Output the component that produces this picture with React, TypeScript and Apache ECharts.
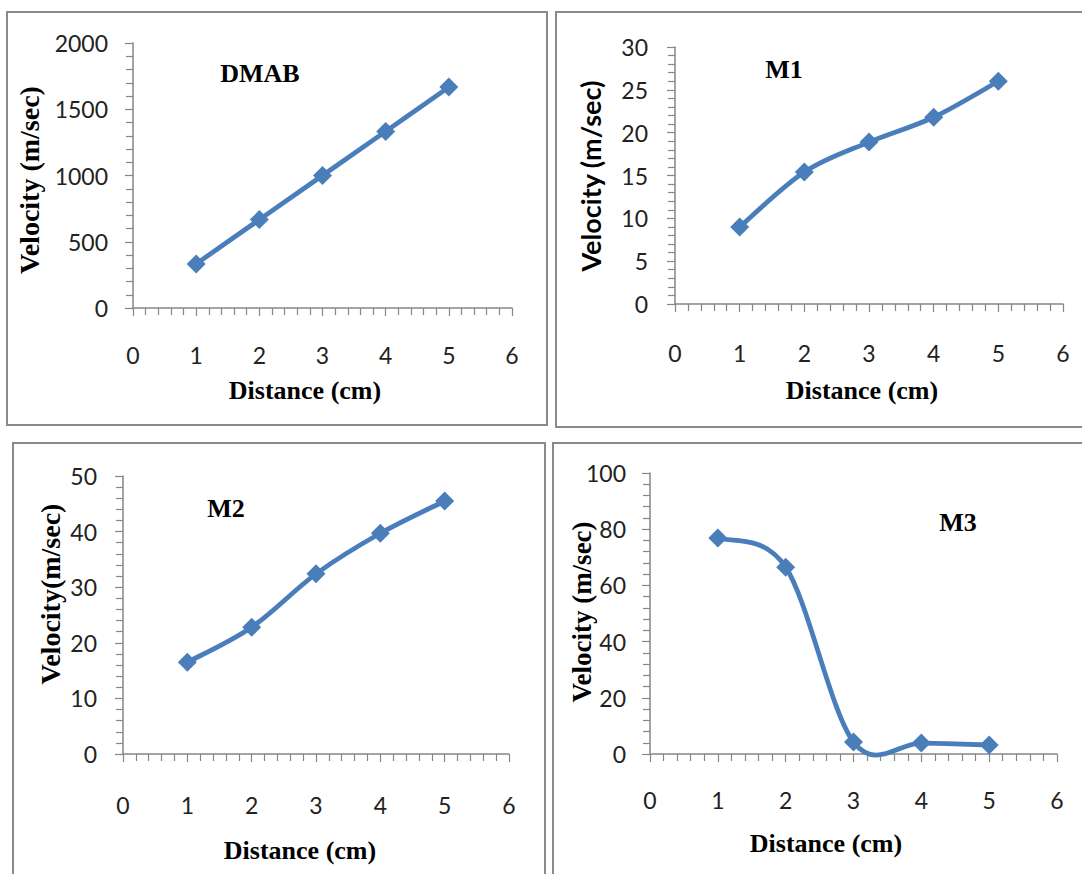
import React, { useEffect, useRef } from "react";
import * as echarts from "echarts";

const distance = [1, 2, 3, 4, 5];
const dmabVelocity = [333, 667, 1000, 1333, 1667];
const m1Velocity = [9.0, 15.4, 18.9, 21.8, 26.0];
const m2Velocity = [16.5, 22.8, 32.4, 39.7, 45.5];
const m3Velocity = [76.9, 66.5, 4.3, 3.9, 3.2];

const panelTitles = ["DMAB", "M1", "M2", "M3"];
const xTitle = "Distance (cm)";
const yTitles = ["Velocity (m/sec)", "Velocity (m/sec)", "Velocity(m/sec)", "Velocity (m/sec)"];
const yMax = [2000, 30, 50, 100];
const yInterval = [500, 5, 10, 20];

const BLUE = "#4A7EBB";
const AXIS = "#868686";
const SANS = "Lato, 'Open Sans', sans-serif";
const SERIF = "'Liberation Serif', 'DejaVu Serif', serif";

const grids = [
  { left: 133, top: 43, width: 379, height: 265 },
  { left: 675, top: 47, width: 388, height: 257 },
  { left: 123, top: 476, width: 386, height: 278 },
  { left: 650, top: 473, width: 407, height: 281 },
];
const yLabelMargin = [25, 27, 26, 24];
const xLabelMargin = [35, 37, 39, 34];

export default function App() {
  const ref = useRef<HTMLDivElement>(null);
  useEffect(() => {
    if (!ref.current) return;
    const chart = echarts.init(ref.current, undefined, { renderer: "svg" });
    const seriesData = [dmabVelocity, m1Velocity, m2Velocity, m3Velocity];

    const xAxes = grids.map((_, i) => ({
      type: "value",
      gridIndex: i,
      min: 0,
      max: 6,
      interval: 1,
      axisLine: { show: true, lineStyle: { color: AXIS, width: 1.5 } },
      axisTick: { show: true, inside: false, length: 8, lineStyle: { color: AXIS, width: 1.2 } },
      minorTick: { show: true, splitNumber: 5, length: 7, lineStyle: { color: AXIS, width: 1.2 } },
      splitLine: { show: false },
      axisLabel: {
        color: "#222",
        fontFamily: SANS,
        fontSize: 23,
        margin: xLabelMargin[i],
        formatter: (v: number) => String(v),
      },
    }));
    const yAxes = grids.map((_, i) => ({
      type: "value",
      gridIndex: i,
      min: 0,
      max: yMax[i],
      interval: yInterval[i],
      axisLine: { show: true, lineStyle: { color: AXIS, width: 1.5 } },
      axisTick: { show: true, inside: false, length: 8, lineStyle: { color: AXIS, width: 1.2 } },
      minorTick: { show: true, splitNumber: 5, length: 7, lineStyle: { color: AXIS, width: 1.2 } },
      splitLine: { show: false },
      axisLabel: {
        color: "#222",
        fontFamily: SANS,
        fontSize: 23,
        margin: yLabelMargin[i],
        formatter: (v: number) => String(v),
      },
    }));

    const series: any[] = [];
    seriesData.forEach((vals, i) => {
      const pts = distance.map((d, k) => [d, vals[k]]);
      series.push({
        type: "custom",
        xAxisIndex: i,
        yAxisIndex: i,
        data: pts,
        clip: false,
        z: 2,
        silent: true,
        renderItem: (params: any, api: any) => {
          if (params.dataIndex !== 0) return { type: "group", children: [] };
          const p = pts.map((d) => api.coord(d));
          const n = p.length;
          const children: any[] = [];
          for (let k = 0; k < n - 1; k++) {
            const p0 = p[Math.max(k - 1, 0)];
            const p1 = p[k];
            const p2 = p[k + 1];
            const p3 = p[Math.min(k + 2, n - 1)];
            children.push({
              type: "bezierCurve",
              shape: {
                x1: p1[0],
                y1: p1[1],
                x2: p2[0],
                y2: p2[1],
                cpx1: p1[0] + (p2[0] - p0[0]) / 6,
                cpy1: p1[1] + (p2[1] - p0[1]) / 6,
                cpx2: p2[0] - (p3[0] - p1[0]) / 6,
                cpy2: p2[1] - (p3[1] - p1[1]) / 6,
              },
              style: { stroke: BLUE, lineWidth: 4.8, fill: "none", lineCap: "round" },
            });
          }
          return { type: "group", children };
        },
      });
      series.push({
        type: "scatter",
        xAxisIndex: i,
        yAxisIndex: i,
        data: pts,
        symbol: "diamond",
        symbolSize: 19,
        z: 3,
        itemStyle: { color: BLUE, opacity: 1 },
      });
    });

    const borders = [
      { x: 7, y: 12, w: 540, h: 413 },
      { x: 556, y: 12, w: 540, h: 415 },
      { x: 13, y: 443, w: 532, h: 450 },
      { x: 553, y: 443, w: 540, h: 450 },
    ];
    const titlePos = [
      [260, 73],
      [784, 69],
      [226, 508],
      [958, 522],
    ];
    const xTitlePos = [
      [305, 390],
      [862, 390],
      [300, 850],
      [826, 843],
    ];
    const yTitlePos = [
      [29, 180],
      [590, 176],
      [50, 594],
      [582, 612],
    ];
    const yTitleFont = [
      `bold 28px ${SERIF}`,
      `bold 27px ${SANS}`,
      `bold 28px ${SERIF}`,
      `bold 27px ${SERIF}`,
    ];

    const graphic: any[] = [];
    borders.forEach((b) =>
      graphic.push({
        type: "rect",
        shape: { x: b.x, y: b.y, width: b.w, height: b.h },
        style: { fill: "none", stroke: "#8a8a8a", lineWidth: 2 },
        silent: true,
        z: -1,
      })
    );
    titlePos.forEach((p, i) =>
      graphic.push({
        type: "text",
        x: p[0],
        y: p[1],
        style: {
          text: panelTitles[i],
          font: `bold 26px ${SERIF}`,
          fill: "#000",
          textAlign: "center",
          textVerticalAlign: "middle",
        },
      })
    );
    xTitlePos.forEach((p) =>
      graphic.push({
        type: "text",
        x: p[0],
        y: p[1],
        style: {
          text: xTitle,
          font: `bold 26px ${SERIF}`,
          fill: "#000",
          textAlign: "center",
          textVerticalAlign: "middle",
        },
      })
    );
    yTitlePos.forEach((p, i) =>
      graphic.push({
        type: "text",
        x: p[0],
        y: p[1],
        rotation: Math.PI / 2,
        style: {
          text: yTitles[i],
          font: yTitleFont[i],
          fill: "#000",
          textAlign: "center",
          textVerticalAlign: "middle",
        },
      })
    );

    chart.setOption({
      animation: false,
      backgroundColor: "#ffffff",
      grid: grids.map((g) => ({ ...g, containLabel: false })),
      xAxis: xAxes,
      yAxis: yAxes,
      series,
      graphic,
    });
    return () => chart.dispose();
  }, []);
  return (
    <div
      ref={ref}
      style={{ position: "fixed", left: 0, top: 0, width: 1082, height: 874, background: "#fff" }}
    />
  );
}
